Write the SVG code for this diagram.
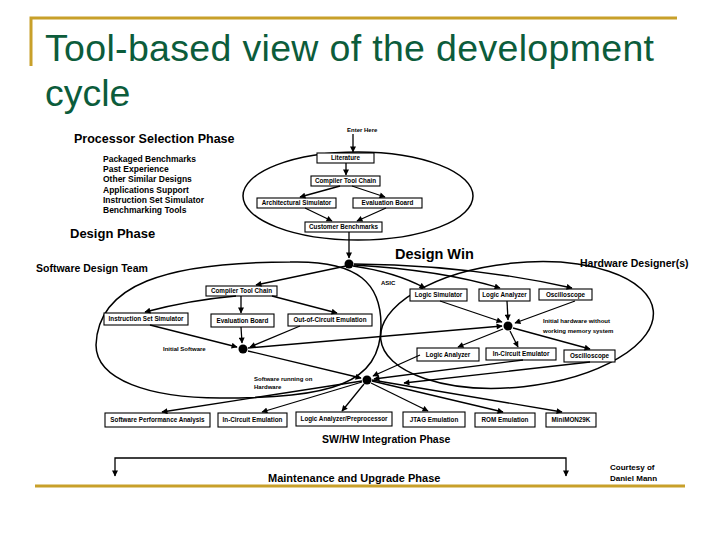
<svg xmlns="http://www.w3.org/2000/svg" width="720" height="540" viewBox="0 0 720 540">
<style>
text{font-family:"Liberation Sans",Arial,sans-serif;fill:#000}
.title{font-size:37.5px;fill:#0c5c3b}
.b{font-weight:bold}
.box rect{fill:#fff;stroke:#000;stroke-width:1.1}
.box text{font-size:6.3px;font-weight:bold;text-anchor:middle}
.ell{fill:none;stroke:#000;stroke-width:1.5}
.conn path{fill:none;stroke:#000;stroke-width:1.3;marker-end:url(#ah)}
.dot{fill:#000}
.gold{stroke:#c8a02a;stroke-width:3;fill:none}
.sm{font-size:6px;font-weight:bold}
</style>
<defs>
<marker id="ah" viewBox="0 0 10 10" refX="9" refY="5" markerWidth="8" markerHeight="6" markerUnits="userSpaceOnUse" orient="auto"><path d="M0,0 L10,5 L0,10 z" fill="#000"/></marker>
</defs>
<rect width="720" height="540" fill="#fff"/>
<g id="frame">
<path class="gold" d="M31,66 V18 H677"/>
<path class="gold" d="M35,486 H685"/>
</g>
<g id="title">
<text class="title" x="45" y="61" textLength="609" lengthAdjust="spacing">Tool-based view of the development</text>
<text class="title" x="45" y="106">cycle</text>
</g>
<g id="phases">
<ellipse class="ell" cx="358" cy="196" rx="115" ry="44"/>
<path class="ell" d="M96,345 C98,285 165,262 290,262 C360,260 381,285 381,325 C381,385 330,398 220,398 C150,398 96,380 96,345 Z"/>
<ellipse class="ell" cx="517" cy="325" rx="137" ry="62" transform="rotate(-6 517 325)"/>
</g>
<g id="labels">
<text class="b" x="74" y="143" font-size="12.5">Processor Selection Phase</text>
<g class="b" font-size="8.5">
<text x="103" y="162">Packaged Benchmarks</text>
<text x="103" y="172">Past Experience</text>
<text x="103" y="182">Other Similar Designs</text>
<text x="103" y="192.5">Applications Support</text>
<text x="103" y="203">Instruction Set Simulator</text>
<text x="103" y="213">Benchmarking Tools</text>
</g>
<text class="b" x="70" y="238" font-size="13">Design Phase</text>
<text class="b" x="36" y="272" font-size="10.5">Software Design Team</text>
<text class="b" x="580" y="267" font-size="10.5">Hardware Designer(s)</text>
<text class="b" x="395" y="259" font-size="14.5">Design Win</text>
<text class="sm" x="347" y="132">Enter Here</text>
<text class="sm" x="381" y="285">ASIC</text>
<text class="sm" x="163" y="351">Initial Software</text>
<text class="sm" x="543" y="323">Initial hardware without</text>
<text class="sm" x="543" y="333">working memory system</text>
<text class="sm" x="254" y="381">Software running on</text>
<text class="sm" x="254" y="389">Hardware</text>
<text class="b" x="322" y="443" font-size="10.5">SW/HW Integration Phase</text>
<text class="b" x="268" y="482" font-size="11">Maintenance and Upgrade Phase</text>
<text class="b" x="610" y="470" font-size="8">Courtesy of</text>
<text class="b" x="610" y="481" font-size="8">Daniel Mann</text>
</g>
<g id="lit" class="box"><rect x="317" y="153" width="57" height="10"/><text x="345.5" y="160.2">Literature</text></g>
<g id="ctc1" class="box"><rect x="311" y="176" width="69" height="10"/><text x="345.5" y="183.2">Compiler Tool Chain</text></g>
<g id="arch" class="box"><rect x="257" y="198" width="79" height="10"/><text x="296.5" y="205.2">Architectural Simulator</text></g>
<g id="eval1" class="box"><rect x="353" y="198" width="69" height="10"/><text x="387.5" y="205.2">Evaluation Board</text></g>
<g id="cust" class="box"><rect x="305" y="222" width="77" height="10"/><text x="343.5" y="229.2">Customer Benchmarks</text></g>
<g id="ctc2" class="box"><rect x="206" y="286" width="71" height="10"/><text x="241.5" y="293.2">Compiler Tool Chain</text></g>
<g id="iss" class="box"><rect x="104" y="313" width="84" height="12"/><text x="146" y="321.2">Instruction Set Simulator</text></g>
<g id="eval2" class="box"><rect x="211" y="314" width="63" height="13"/><text x="242.5" y="322.7">Evaluation Board</text></g>
<g id="ooc" class="box"><rect x="288" y="314" width="84" height="12"/><text x="330" y="322.2">Out-of-Circuit Emulation</text></g>
<g id="lsim" class="box"><rect x="410" y="289" width="57" height="12"/><text x="438.5" y="297.2">Logic Simulator</text></g>
<g id="la1" class="box"><rect x="479" y="289" width="51" height="12"/><text x="504.5" y="297.2">Logic Analyzer</text></g>
<g id="osc1" class="box"><rect x="539" y="289" width="53" height="11"/><text x="565.5" y="296.7">Oscilloscope</text></g>
<g id="la2" class="box"><rect x="417" y="348" width="62" height="13"/><text x="448" y="356.7">Logic Analyzer</text></g>
<g id="ice" class="box"><rect x="486" y="348" width="70" height="12"/><text x="521" y="356.2">In-Circuit Emulator</text></g>
<g id="osc2" class="box"><rect x="564" y="350" width="51" height="12"/><text x="589.5" y="358.2">Oscilloscope</text></g>
<g id="spa" class="box"><rect x="105" y="413" width="105" height="14"/><text x="157.5" y="422.2">Software Performance Analysis</text></g>
<g id="icem" class="box"><rect x="218" y="413" width="69" height="14"/><text x="252.5" y="422.2">In-Circuit Emulation</text></g>
<g id="lap" class="box"><rect x="296" y="412" width="96" height="14"/><text x="344" y="421.2">Logic Analyzer/Preprocessor</text></g>
<g id="jtag" class="box"><rect x="403" y="412" width="62" height="15"/><text x="434" y="421.7">JTAG Emulation</text></g>
<g id="rom" class="box"><rect x="475" y="413" width="60" height="14"/><text x="505" y="422.2">ROM Emulation</text></g>
<g id="mini" class="box"><rect x="546" y="413" width="50" height="14"/><text x="571" y="422.2">MiniMON29K</text></g>
<g id="dw"><circle class="dot" cx="349" cy="264" r="4.5"/></g>
<g id="isw"><circle class="dot" cx="243" cy="349" r="4.5"/></g>
<g id="ihw"><circle class="dot" cx="508" cy="326" r="4.5"/></g>
<g id="srh"><circle class="dot" cx="367" cy="380" r="4.5"/></g>
<g id="connectors" class="conn">
<path d="M353,134 L353,152"/>
<path d="M346,163 L346,175"/>
<path d="M340,186 L300,197"/>
<path d="M352,186 L385,197"/>
<path d="M305,208 L332,221"/>
<path d="M386,208 L357,221"/>
<path d="M349,232 L349,258"/>
<path d="M346,266 L256,285"/>
<path d="M353,266 Q395,272 425,288"/>
<path d="M354,265 Q440,270 500,288"/>
<path d="M354,264 Q470,265 572,288"/>
<path d="M236,296 Q190,300 145,312"/>
<path d="M241,296 L241,313"/>
<path d="M272,296 L337,313"/>
<path d="M150,325 L237,347"/>
<path d="M241,327 L242,343"/>
<path d="M300,326 L250,347"/>
<path d="M248,348 L502,326"/>
<path d="M248,351 L361,378"/>
<path d="M440,301 L502,322"/>
<path d="M507,301 L508,320"/>
<path d="M575,301 L515,323"/>
<path d="M503,329 L458,347"/>
<path d="M510,331 L518,347"/>
<path d="M513,328 L590,349"/>
<path d="M420,355 L373,376"/>
<path d="M523,360 L374,379"/>
<path d="M590,362 L404,383"/>
<path d="M362,381 L162,412"/>
<path d="M362,382 L262,412"/>
<path d="M364,384 L342,411"/>
<path d="M371,383 L428,411"/>
<path d="M372,381 L503,412"/>
<path d="M372,380 L562,412"/>
<path d="M340,458 L115,458 L115,476"/>
<path d="M340,458 L566,458 L566,476"/>
</g>
</svg>
